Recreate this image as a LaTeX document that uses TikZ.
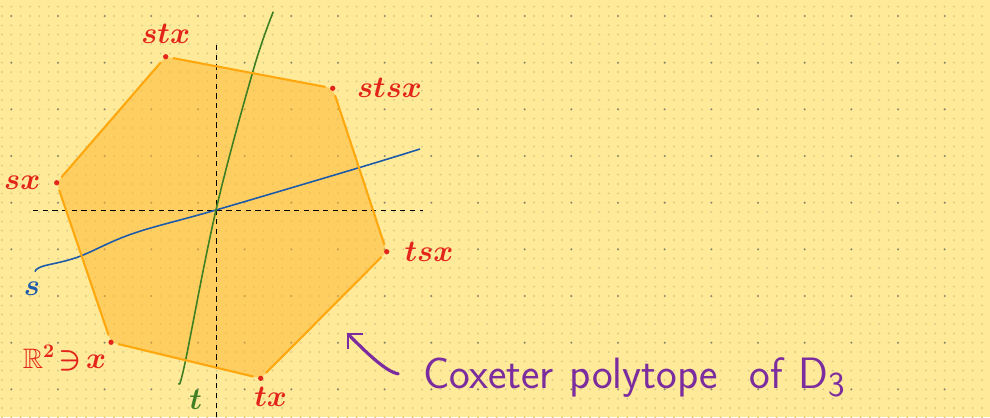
\documentclass[tikz,border=0pt]{standalone}
\usepackage{amssymb}
\usetikzlibrary{positioning, backgrounds, arrows.meta}
\definecolor{bgyellow}{HTML}{FEEA98}
\definecolor{gridfine}{HTML}{D8CB8A}
\definecolor{griddark}{HTML}{8E8A6A}
\definecolor{polyorange}{HTML}{FFA70F}
\definecolor{polyfill}{HTML}{FFB52A}
\definecolor{ptred}{HTML}{E3241B}
\definecolor{sblue}{HTML}{1D5BAA}
\definecolor{tgreen}{HTML}{3F7F24}
\definecolor{cpurple}{HTML}{7B2C9F}

\begin{document}
\begin{tikzpicture}[x=0.02cm, y=-0.02cm,
  vdot/.style={circle, fill=ptred, inner sep=0pt, minimum size=3pt},
  vlabel/.style={text=ptred, inner sep=0pt, font=\fontsize{16}{18}\selectfont\boldmath},
  polyedge/.style={draw=polyorange, line width=1.2pt, shorten <=2.5pt, shorten >=2.5pt},
  axis/.style={draw=black, line width=0.5pt, dash pattern=on 3pt off 2.5pt},
  parrow/.style={draw=cpurple, line width=1.8pt, line cap=round,
                 -{Straight Barb[length=6pt, width=12pt, line width=1.3pt]}}]
  \useasboundingbox (0,0) rectangle (990,417);

  \node[vdot] (vstx) at (165.7,56.7) {};
  \node[vdot] (vstsx) at (332.7,88.3) {};
  \node[vdot] (vtsx) at (386.7,251.7) {};
  \node[vdot] (vtx) at (260.7,378.3) {};
  \node[vdot] (vx) at (111,342.3) {};
  \node[vdot] (vsx) at (56.7,182.7) {};

  \begin{scope}[on background layer]
    \fill[bgyellow] (0,0) rectangle (990,417);
    \foreach \j in {0,...,44}
      \fill[gridfine] \foreach \i in {0,...,106} {(1.97+9.333*\i, 6.67+9.333*\j) circle[radius=0.6pt]};
    \foreach \j in {0,...,8}
      \fill[griddark] \foreach \i in {0,...,21} {(11.3+46.67*\i, 16+46.67*\j) circle[radius=0.65pt]};
    \fill[polyfill, fill opacity=0.5, rounded corners=3pt]
      (vstx.center) -- (vstsx.center) -- (vtsx.center) -- (vtx.center)
      -- (vx.center) -- (vsx.center) -- cycle;
  \end{scope}

  \coordinate (O) at (216,210);
  \coordinate (hl) at (33,210);
  \coordinate (hr) at (423,210);
  \coordinate (vt) at (216,45);
  \coordinate (vb) at (216,417);
  \draw[axis] (hl) -- (hr);
  \draw[axis] (vt) -- (vb);

  \coordinate (s0) at (35,271.7);
  \coordinate (s1) at (420,149);
  \coordinate (t0) at (179,383);
  \coordinate (t1) at (273.3,11.7);
  \draw[sblue, line width=0.9pt] plot[smooth, tension=0.6]
    coordinates {(s0) (42,266.5) (78,257) (133,233.5) (O) (358,168) (s1)};
  \draw[tgreen, line width=0.9pt] plot[smooth, tension=0.6]
    coordinates {(t0) (185,363) (O) (253.3,70) (t1)};

  \draw[polyedge] (vstx) -- (vstsx);
  \draw[polyedge] (vstsx) -- (vtsx);
  \draw[polyedge] (vtsx) -- (vtx);
  \draw[polyedge] (vtx) -- (vx);
  \draw[polyedge] (vx) -- (vsx);
  \draw[polyedge] (vsx) -- (vstx);

  \node[vlabel, above=0.2cm of vstx] (lstx) {$stx$};
  \node[vlabel, right=0.42cm of vstsx] (lstsx) {$stsx$};
  \node[vlabel, right=0.29cm of vtsx] (ltsx) {$tsx$};
  \node[vlabel, below=0.12cm of vtx, xshift=0.2cm] (ltx) {$tx$};
  \node[vlabel, below left=0cm and 0.05cm of vx] (lx) {$\mathbb{R}^2\!\ni\! x$};
  \node[vlabel, left=0.26cm of vsx] (lsx) {$sx$};
  \node[vlabel, text=sblue, below=0.2cm of s0, xshift=-0.06cm] (ls) {$s$};
  \node[vlabel, text=tgreen, below right=0.14cm and 0.2cm of t0] (lt) {$t$};

  \node[anchor=base west, inner sep=0pt, text=cpurple, font=\sffamily\fontsize{25}{27}\selectfont]
    (cox) at (423,388) {Coxeter\hspace{0.05em} polytope\hspace{0.4em} of\hspace{0.05em} D\textsubscript{\fontsize{20}{20}\selectfont 3}};
  \coordinate (tip) at (347,333);
  \draw[parrow, shorten <=0.5cm] (cox.west) .. controls (385,372) and (360,346) .. (tip);
\end{tikzpicture}
\end{document}
